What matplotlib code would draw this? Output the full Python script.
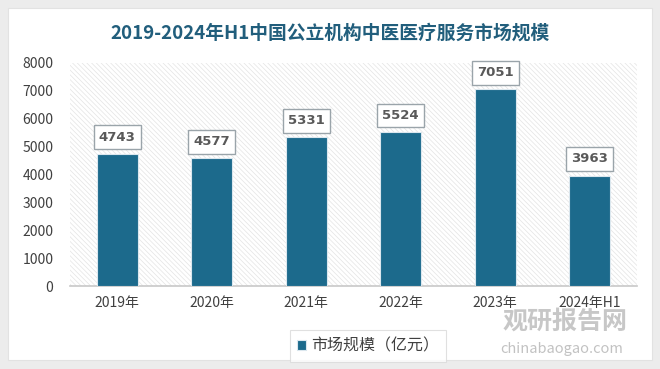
import matplotlib.pyplot as plt
from matplotlib.patches import Rectangle

plt.rcParams['font.family'] = ['Noto Sans CJK SC', 'DejaVu Sans']
plt.rcParams['hatch.linewidth'] = 0.5
plt.rcParams['hatch.color'] = '#e4e4e4'

years = ['2019年', '2020年', '2021年', '2022年', '2023年', '2024年H1']
market = [4743, 4577, 5331, 5524, 7051, 3963]
title = '2019-2024年H1中国公立机构中医医疗服务市场规模'
series_name = '市场规模（亿元）'
bar_color = '#1c6a8c'

fig = plt.figure(figsize=(6.6, 3.69), dpi=100)
fig.patch.set_facecolor('#ececec')
# white card
fig.patches.append(Rectangle((8/660, 9/369), 644/660, 352/369, transform=fig.transFigure,
                             facecolor='white', edgecolor='#e2e2e2', lw=0.8, zorder=-5))

ax = fig.add_axes([70/660, 1-286/369, 567/660, 223/369])
ax.set_zorder(2)
ax.set_facecolor('white')
ax.add_patch(Rectangle((0, 0), 1, 1, transform=ax.transAxes, facecolor='white',
                       hatch='\\\\\\\\\\\\\\', edgecolor='#e4e4e4', lw=0, zorder=0))

x = range(len(years))
bars = ax.bar(x, market, width=0.43, color=bar_color, edgecolor='#dbe7ee', lw=0.8,
              zorder=3, label=series_name)
for xi, v in zip(x, market):
    ax.annotate(f'{v}', (xi, v), xytext=(0, 12), textcoords='offset points',
                ha='center', va='center', fontsize=9.5, fontweight='bold', color='#595959',
                family='DejaVu Sans',
                bbox=dict(boxstyle='square,pad=0.4', fc='white', ec='#9aa4aa', lw=1.0),
                zorder=5)

ax.set_xlim(-0.5, len(years) - 0.5)
ax.set_ylim(0, 8000)
ax.set_yticks(range(0, 8001, 1000))
ax.set_xticks(list(x))
ax.set_xticklabels(years)
for s in ['top', 'right', 'left']:
    ax.spines[s].set_visible(False)
ax.spines['bottom'].set_color('#c8c8c8')
ax.spines['bottom'].set_linewidth(1.2)
ax.tick_params(length=0, labelsize=10, colors='#404040')
ax.tick_params(axis='x', pad=7)
ax.tick_params(axis='y', pad=12)

fig.text(0.5, 1-33/369, title, ha='center', va='center', fontsize=13.5,
         fontweight='bold', color='#215e7c')

leg = fig.legend(handles=[bars], labels=[series_name], loc='center',
                 bbox_to_anchor=(368/660, 1-346/369), fontsize=11.5, frameon=True,
                 handlelength=0.55, handleheight=0.55, handletextpad=0.3,
                 fancybox=False, borderpad=0.45, borderaxespad=0)
leg.get_frame().set_edgecolor('#d9d9d9')
leg.get_frame().set_linewidth(0.8)
for t in leg.get_texts():
    t.set_color('#404040')

# watermark
fig.text(565/660, 1-322/369, '观研报告网', ha='center', va='center', fontsize=18,
         fontweight='bold', color='#9a9a9a', alpha=0.55, zorder=10)
fig.text(562/660, 1-349/369, 'chinabaogao.com', ha='center', va='center', fontsize=10.5,
         color='#9a9a9a', alpha=0.6, zorder=10)

fig.savefig('out.png', dpi=100)
